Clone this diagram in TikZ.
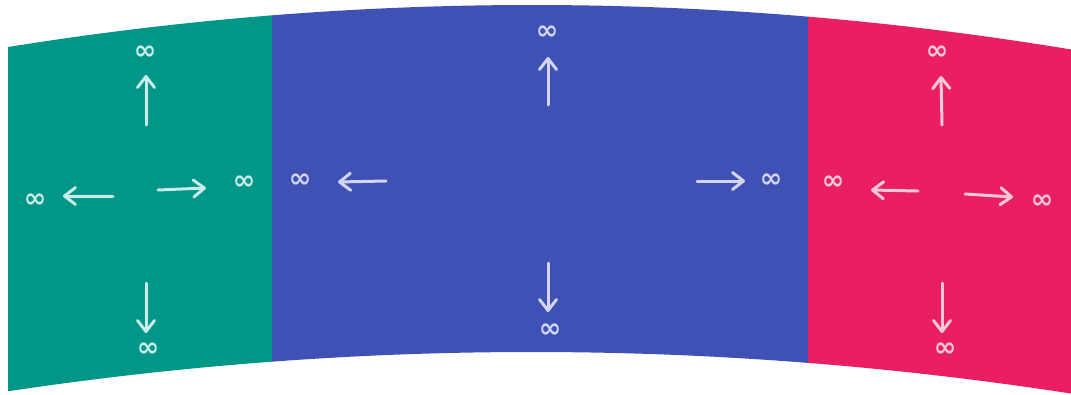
\documentclass[tikz,border=0pt]{standalone}
\usepackage{fontspec}
\newfontfamily\symfont{DejaVu Sans}
\usetikzlibrary{arrows.meta}
\definecolor{cgreen}{HTML}{009688}
\definecolor{cblue}{HTML}{3F51B5}
\definecolor{cred}{HTML}{E91E63}
\definecolor{fgreen}{HTML}{C8ECE7}
\definecolor{fblue}{HTML}{D2D6F3}
\definecolor{fred}{HTML}{FBC8D9}
\begin{document}
\begin{tikzpicture}[x=1pt,y=-1pt,
  inf/.style={font=\symfont\bfseries\fontsize{27}{27}\selectfont, inner sep=0pt},
  arr/.style={line width=3pt, line cap=round, line join=round,
    -{Straight Barb[length=11pt,width=17pt,round]}},
]
\useasboundingbox (0,0) rectangle (1071,394);
% bands
\fill[cgreen] plot[domain=8:272,samples=30] (\x,{5+1.53*((\x-532)/100)^2})
  -- plot[domain=272:8,samples=30] (\x,{352+1.43*((\x-532)/100)^2}) -- cycle;
\fill[cblue] plot[domain=272:808,samples=50] (\x,{5+1.53*((\x-532)/100)^2})
  -- plot[domain=808:272,samples=50] (\x,{352+1.43*((\x-532)/100)^2}) -- cycle;
\fill[cred] plot[domain=808:1071,samples=30] (\x,{5+1.53*((\x-532)/100)^2})
  -- plot[domain=1071:808,samples=30] (\x,{352+1.43*((\x-532)/100)^2}) -- cycle;

% green
\begin{scope}[every node/.style={inf,text=fgreen}, draw=fgreen]
\node (gT) at (145,53) {∞};
\node (gR) at (244,183) {∞};
\node (gL) at (35,201) {∞};
\node (gB) at (148,350) {∞};
\coordinate (gTs) at (146,125); \coordinate (gTe) at (146,75);
\coordinate (gRs) at (158,190); \coordinate (gRe) at (206,188);
\coordinate (gLs) at (113,196); \coordinate (gLe) at (63,196);
\coordinate (gBs) at (146,283); \coordinate (gBe) at (146,333);
\draw[arr] (gTs) -- (gTe);
\draw[arr] (gRs) -- (gRe);
\draw[arr] (gLs) -- (gLe);
\draw[arr] (gBs) -- (gBe);
\end{scope}

% blue
\begin{scope}[every node/.style={inf,text=fblue}, draw=fblue]
\node (bT) at (547,33) {∞};
\node (bR) at (771,181) {∞};
\node (bL) at (300,181) {∞};
\node (bB) at (550,331) {∞};
\coordinate (bTs) at (548,105); \coordinate (bTe) at (548,57);
\coordinate (bRs) at (697,181); \coordinate (bRe) at (745,181);
\coordinate (bLs) at (386,181); \coordinate (bLe) at (338,182);
\coordinate (bBs) at (548,263); \coordinate (bBe) at (548,312);
\draw[arr] (bTs) -- (bTe);
\draw[arr] (bRs) -- (bRe);
\draw[arr] (bLs) -- (bLe);
\draw[arr] (bBs) -- (bBe);
\end{scope}

% red
\begin{scope}[every node/.style={inf,text=fred}, draw=fred]
\node (rT) at (937,53) {∞};
\node (rR) at (1042,202) {∞};
\node (rL) at (833,183) {∞};
\node (rB) at (945,350) {∞};
\coordinate (rTs) at (942,125); \coordinate (rTe) at (941,76);
\coordinate (rRs) at (965,194); \coordinate (rRe) at (1013,197);
\coordinate (rLs) at (918,191); \coordinate (rLe) at (871,190);
\coordinate (rBs) at (942,283); \coordinate (rBe) at (942,333);
\draw[arr] (rTs) -- (rTe);
\draw[arr] (rRs) -- (rRe);
\draw[arr] (rLs) -- (rLe);
\draw[arr] (rBs) -- (rBe);
\end{scope}
\end{tikzpicture}
\end{document}
